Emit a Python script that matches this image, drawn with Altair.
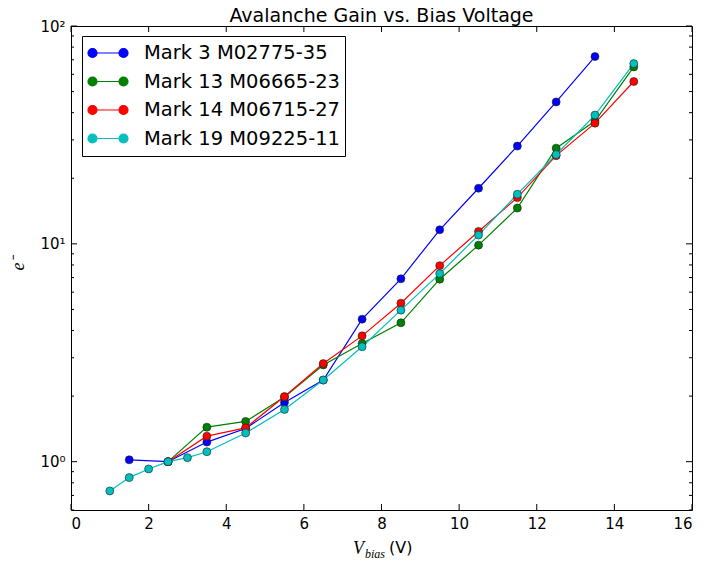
import altair as alt
import pandas as pd

series_names = ["Mark 3 M02775-35", "Mark 13 M06665-23", "Mark 14 M06715-27", "Mark 19 M09225-11"]
series_colors = ["#0000ff", "#008000", "#ff0000", "#00bfbf"]

mark3_v = [1.5, 2.5, 3.5, 4.5, 5.5, 6.5, 7.5, 8.5, 9.5, 10.5, 11.5, 12.5, 13.5]
mark3_g = [1.02, 1.0, 1.23, 1.42, 1.87, 2.37, 4.51, 6.91, 11.6, 18.0, 28.1, 44.8, 72.4]

mark13_v = [2.5, 3.5, 4.5, 5.5, 6.5, 7.5, 8.5, 9.5, 10.5, 11.5, 12.5, 13.5, 14.5]
mark13_g = [1.0, 1.44, 1.53, 1.98, 2.78, 3.49, 4.34, 6.88, 9.86, 14.6, 27.5, 36.6, 64.9]

mark14_v = [2.5, 3.5, 4.5, 5.5, 6.5, 7.5, 8.5, 9.5, 10.5, 11.5, 12.5, 13.5, 14.5]
mark14_g = [1.0, 1.31, 1.43, 1.99, 2.82, 3.78, 5.34, 7.94, 11.4, 16.3, 25.4, 35.8, 55.6]

mark19_v = [1.0, 1.5, 2.0, 2.5, 3.0, 3.5, 4.5, 5.5, 6.5, 7.5, 8.5, 9.5, 10.5, 11.5, 12.5, 13.5, 14.5]
mark19_g = [0.734, 0.845, 0.926, 1.0, 1.043, 1.111, 1.354, 1.737, 2.37, 3.37, 4.96, 7.3, 10.97, 16.9, 25.7, 39.0, 67.2]

x_ticks = [0, 2, 4, 6, 8, 10, 12, 14, 16]
y_major = [1, 10, 100]
y_minor = [0.6, 0.7, 0.8, 0.9, 2, 3, 4, 5, 6, 7, 8, 9, 20, 30, 40, 50, 60, 70, 80, 90]

chart_title = "Avalanche Gain vs. Bias Voltage"

rows = []
for i, (name, vs, gs) in enumerate(zip(series_names,
                                       [mark3_v, mark13_v, mark14_v, mark19_v],
                                       [mark3_g, mark13_g, mark14_g, mark19_g])):
    for v, g in zip(vs, gs):
        rows.append({"series": name, "v": v, "g": g, "k": i})
df = pd.DataFrame(rows)

xt_df = pd.DataFrame({"v": x_ticks})
ymaj_df = pd.DataFrame({"g": y_major})
ymin_df = pd.DataFrame({"g": y_minor})

W, H = 621, 484
xscale = alt.Scale(domain=[0, 16], nice=False, zero=False)
yscale = alt.Scale(type="log", domain=[0.6, 100], nice=False)

legend_path = ("M-0.55,0L0.55,0"
               "M-0.55,0A0.225,0.225,0,1,1,-1,0A0.225,0.225,0,1,1,-0.55,0Z"
               "M1,0A0.225,0.225,0,1,1,0.55,0A0.225,0.225,0,1,1,1,0Z")

color = alt.Color(
    "series:N",
    scale=alt.Scale(domain=series_names, range=series_colors),
    sort=series_names,
    legend=alt.Legend(
        orient="none", legendX=11, legendY=10, title=None,
        symbolType=legend_path, symbolSize=1600, symbolStrokeWidth=1.2,
        labelFont="DejaVu Sans", labelFontSize=19.5, labelColor="black", labelLimit=500,
        labelOffset=15, labelBaseline="middle",
        clipHeight=24, rowPadding=4.5, padding=5,
        strokeColor="black", fillColor="white", cornerRadius=0,
    ),
)

x_axis = alt.Axis(orient="bottom", values=x_ticks, ticks=False, domain=False,
                  grid=False, labelFontSize=15, labelPadding=6)
y_axis = alt.Axis(orient="left", values=y_major, ticks=False, domain=False, grid=False,
                  labelExpr="datum.value == 1 ? '10⁰' : datum.value == 10 ? '10¹' : '10²'",
                  labelFontSize=15, labelPadding=6,
                  title="e⁻", titleFont="Liberation Serif", titleFontStyle="italic",
                  titleFontWeight="normal", titleFontSize=18, titleAngle=270,
                  titleX=-53, titleY=237, titleAlign="center", titleBaseline="middle")


def X():
    return alt.X("v:Q", scale=xscale, title=None, axis=x_axis)


def Y():
    return alt.Y("g:Q", scale=yscale, title="e⁻", axis=y_axis)


lines = alt.Chart(df).mark_line(strokeWidth=1.2).encode(
    x=X(), y=Y(), color=color, detail="series:N", order="v:Q")
points = alt.Chart(df).mark_circle(size=64, opacity=1, stroke="#222222", strokeWidth=0.6).encode(
    x=X(), y=Y(), color=color, order="k:Q")

tick_style = dict(color="black", strokeWidth=1)
xb = alt.Chart(xt_df).mark_rule(**tick_style).encode(x=X(), y=alt.value(H), y2=alt.value(H - 6))
xt = alt.Chart(xt_df).mark_rule(**tick_style).encode(x=X(), y=alt.value(0), y2=alt.value(6))
yl = alt.Chart(ymaj_df).mark_rule(**tick_style).encode(y=Y(), x=alt.value(0), x2=alt.value(6))
yr = alt.Chart(ymaj_df).mark_rule(**tick_style).encode(y=Y(), x=alt.value(W), x2=alt.value(W - 6))
yl2 = alt.Chart(ymin_df).mark_rule(**tick_style).encode(y=Y(), x=alt.value(0), x2=alt.value(3))
yr2 = alt.Chart(ymin_df).mark_rule(**tick_style).encode(y=Y(), x=alt.value(W), x2=alt.value(W - 3))

title_mark = alt.Chart().mark_text(text=chart_title, font="DejaVu Sans", fontSize=19,
                                   align="center", baseline="alphabetic", color="black").encode(
    x=alt.value(W / 2), y=alt.value(-4))

xl1 = alt.Chart().mark_text(text="V", font="Liberation Serif", fontStyle="italic", fontSize=18,
                            align="left", baseline="alphabetic", color="black").encode(
    x=alt.value(282), y=alt.value(528))
xl2 = alt.Chart().mark_text(text="bias", font="Liberation Serif", fontStyle="italic", fontSize=12,
                            align="left", baseline="alphabetic", color="black").encode(
    x=alt.value(294), y=alt.value(532))
xl3 = alt.Chart().mark_text(text="(V)", font="DejaVu Sans", fontSize=16,
                            align="left", baseline="alphabetic", color="black").encode(
    x=alt.value(318), y=alt.value(527))

chart = alt.layer(lines, points, xb, xt, yl, yr, yl2, yr2, title_mark, xl1, xl2, xl3).properties(
    width=W, height=H,
    autosize=alt.AutoSizeParams(type="none"),
    padding={"left": 63, "top": 18, "right": 4, "bottom": 50},
).configure_view(stroke="black", strokeWidth=1).configure_axis(
    labelFont="DejaVu Sans", labelColor="black", tickColor="black"
)

chart.save("out.html", embed_options={"renderer": "svg", "actions": False})
